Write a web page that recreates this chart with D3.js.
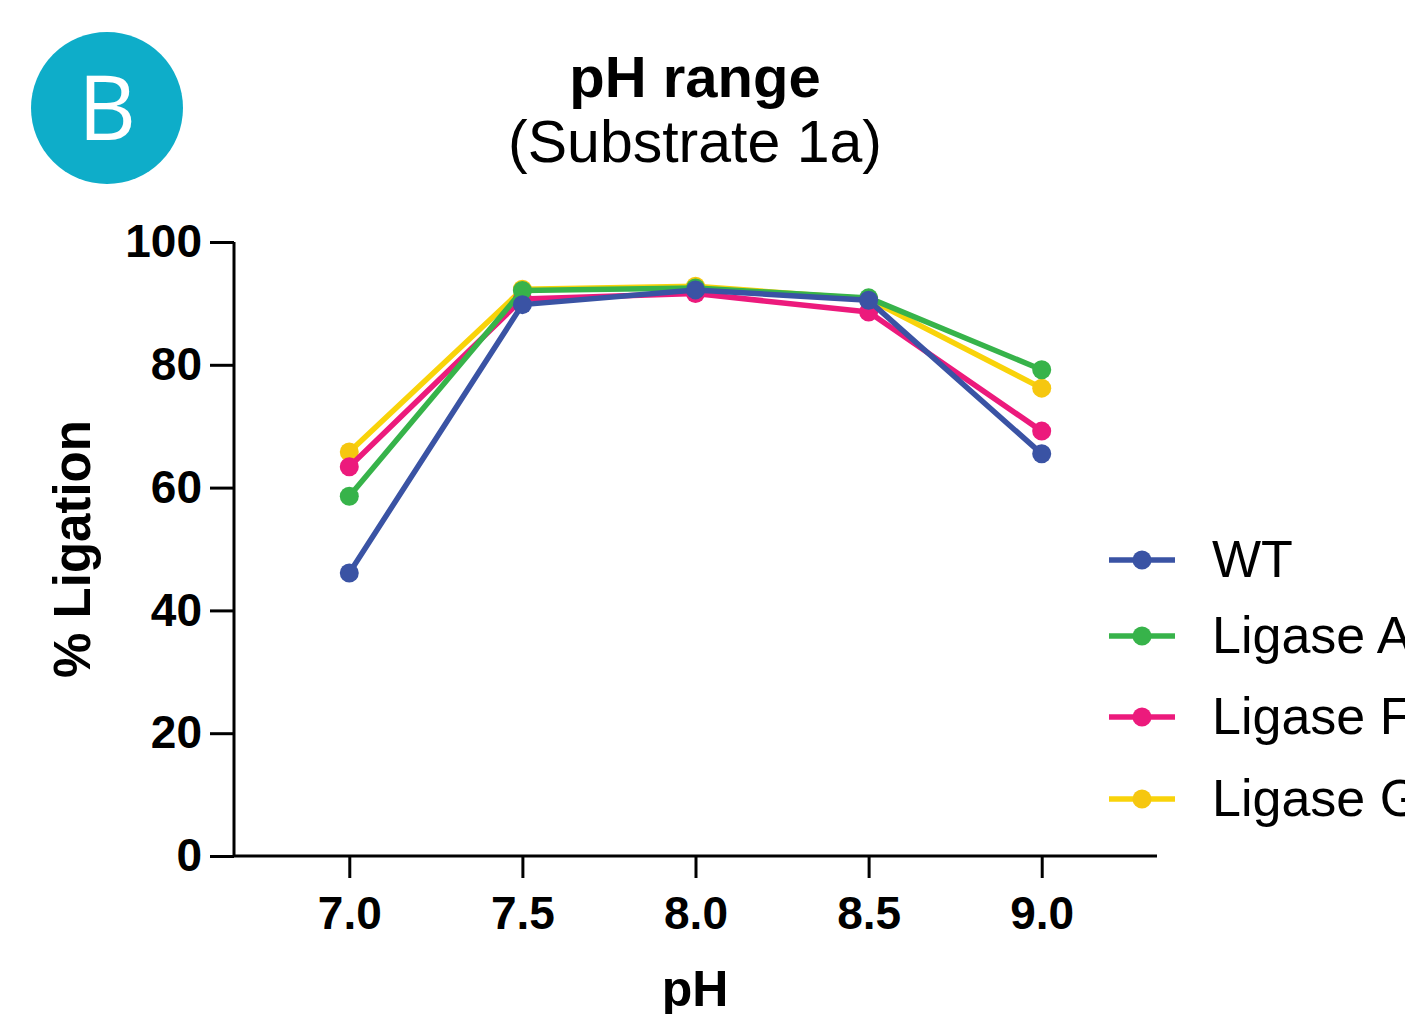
<!DOCTYPE html>
<html><head><meta charset="utf-8">
<script src="https://cdn.jsdelivr.net/npm/d3@7"></script>
<style>body{margin:0;background:#fff;}svg{display:block;}</style>
</head><body>
<svg id="c" width="1405" height="1014"></svg>
<script>
const phValues = [7.0, 7.5, 8.0, 8.5, 9.0];
const seriesNames = ["WT", "Ligase A", "Ligase F", "Ligase G"];
const wt = [46.1, 89.8, 92.2, 90.5, 65.5];
const ligaseA = [58.6, 92.1, 92.5, 90.9, 79.2];
const ligaseF = [63.4, 90.7, 91.6, 88.6, 69.2];
const ligaseG = [65.8, 92.3, 92.8, 90.7, 76.2];
const yTicks = [0, 20, 40, 60, 80, 100];
const xTickLabels = ["7.0", "7.5", "8.0", "8.5", "9.0"];
const colors = ["#3a53a4", "#37b34a", "#ec1a7c", "#f9d30a"];
const pointColors = ["#3a53a4", "#37b34a", "#ec1a7c", "#f6c70f"];

const series = [wt, ligaseA, ligaseF, ligaseG];
const svg = d3.select("#c");
const font = "'Liberation Sans', Arial, sans-serif";

// badge
svg.append("circle").attr("cx", 107).attr("cy", 108).attr("r", 76).attr("fill", "#0eadc9");
svg.append("text").attr("x", 107).attr("y", 140).attr("text-anchor", "middle")
  .attr("font-family", "'Open Sans', sans-serif").attr("font-size", 90).attr("fill", "#fff").text("B");

// title
svg.append("text").attr("x", 695).attr("y", 97).attr("text-anchor", "middle")
  .attr("font-family", font).attr("font-weight", "bold").attr("font-size", 58).text("pH range");
svg.append("text").attr("x", 695).attr("y", 162).attr("text-anchor", "middle")
  .attr("font-family", font).attr("font-size", 59).text("(Substrate 1a)");

const x = d3.scaleLinear().domain([6.667, 9.333]).range([234, 1157]);
const y = d3.scaleLinear().domain([0, 100]).range([856, 242]);

const yAxis = svg.append("g").attr("transform", "translate(234,0)")
  .call(d3.axisLeft(y).tickValues(yTicks).tickSize(24).tickPadding(8).tickFormat(d3.format("d")));
const xAxis = svg.append("g").attr("transform", "translate(0,856)")
  .call(d3.axisBottom(x).tickValues(phValues).tickSize(22).tickPadding(18).tickFormat((d, i) => xTickLabels[i]));
[yAxis, xAxis].forEach(a => {
  a.select(".domain").attr("stroke", "#000").attr("stroke-width", 3);
  a.selectAll(".tick line").attr("stroke", "#000").attr("stroke-width", 3);
  a.selectAll(".tick text").attr("font-family", font).attr("font-weight", "bold")
    .attr("font-size", 46).attr("fill", "#000");
});
yAxis.select(".domain").attr("d", `M0,${y(100)}V${y(0)}`);
xAxis.select(".domain").attr("d", `M${x(6.667)},0H${x(9.333)}`);

svg.append("text").attr("x", 695).attr("y", 1006).attr("text-anchor", "middle")
  .attr("font-family", font).attr("font-weight", "bold").attr("font-size", 50).text("pH");
svg.append("text").attr("transform", "translate(90,549) rotate(-90)").attr("text-anchor", "middle")
  .attr("font-family", font).attr("font-weight", "bold").attr("font-size", 51).text("% Ligation");

const line = d3.line().x((d, i) => x(phValues[i])).y(d => y(d));
const order = [3, 2, 1, 0];
order.forEach(k => {
  const s = series[k];
  svg.append("path").datum(s).attr("d", line).attr("fill", "none")
    .attr("stroke", colors[k]).attr("stroke-width", 5.5).attr("stroke-linejoin", "round");
  svg.append("g").selectAll("circle").data(s).join("circle")
    .attr("cx", (d, i) => x(phValues[i])).attr("cy", d => y(d)).attr("r", 9.5).attr("fill", pointColors[k]);
});

// legend
const legendY = [560, 636, 717, 799];
seriesNames.forEach((n, k) => {
  const g = svg.append("g").attr("transform", `translate(0,${legendY[k]})`);
  g.append("line").attr("x1", 1109).attr("x2", 1175).attr("stroke", colors[k]).attr("stroke-width", 5.5);
  g.append("circle").attr("cx", 1142).attr("r", 9.5).attr("fill", pointColors[k]);
  g.append("text").attr("x", 1212).attr("y", 17).attr("font-family", font).attr("font-size", 52).text(n);
});
</script>
</body></html>
